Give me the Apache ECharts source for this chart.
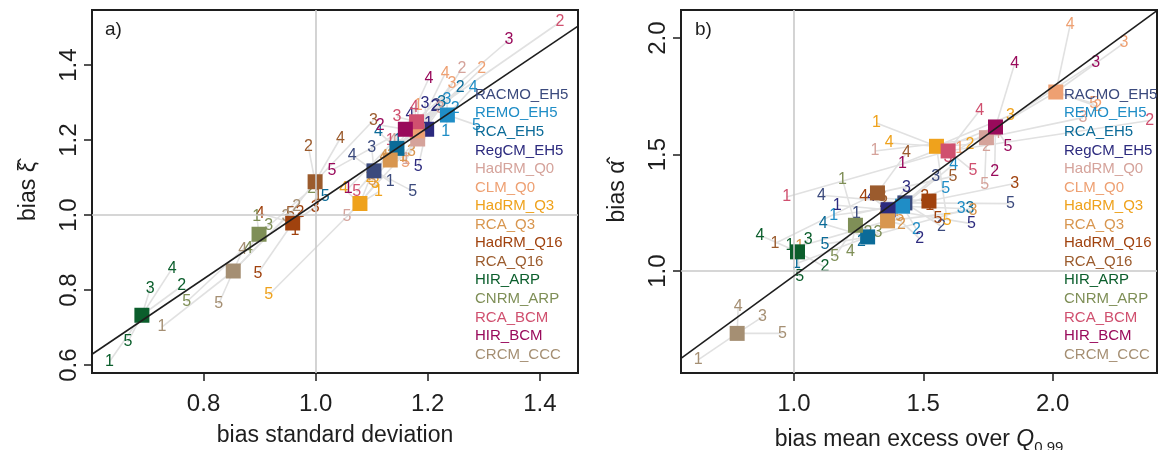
<!DOCTYPE html>
<html><head><meta charset="utf-8">
<script src="https://cdn.jsdelivr.net/npm/echarts@6/dist/echarts.min.js"></script>
<style>html,body{margin:0;padding:0;background:#fff}#c{width:1160px;height:450px}</style>
</head><body><div id="c"></div>
<script>
const models = ['RACMO_EH5','REMO_EH5','RCA_EH5','RegCM_EH5','HadRM_Q0','CLM_Q0','HadRM_Q3','RCA_Q3','HadRM_Q16','RCA_Q16','HIR_ARP','CNRM_ARP','RCA_BCM','HIR_BCM','CRCM_CCC'];
const colors = ['#3B4A7D','#1F8DC6','#0B6B98','#2C2A7E','#D5A39B','#EEA072','#EFA21C','#D8964F','#A0420E','#9B5B2D','#0B5E2C','#7F8F57','#D0506F','#990A5B','#A58F73'];

// Panel a: bias standard deviation (x) vs bias xi-hat (y)
const aSqX = [1.104,1.235,1.145,1.198,1.182,1.181,1.079,1.133,0.959,0.999,0.690,0.899,1.180,1.160,0.853];
const aSqY = [1.118,1.267,1.178,1.229,1.203,1.225,1.031,1.147,0.979,1.089,0.733,0.949,1.249,1.229,0.851];
const aLabX = [
 [1.133,1.215,1.100,1.065,1.173],
 [1.232,1.249,1.234,1.281,1.287],
 [1.147,1.258,1.225,1.112,1.017],
 [1.201,1.213,1.195,1.168,1.183],
 [1.161,1.261,1.222,1.138,1.056],
 [1.183,1.296,1.243,1.231,1.160],
 [1.112,1.097,1.106,1.050,0.916],
 [1.156,1.135,1.171,1.122,1.101],
 [0.963,0.972,0.999,0.901,0.897],
 [1.004,0.987,1.103,1.044,0.955],
 [0.632,0.761,0.705,0.744,0.665],
 [0.895,0.993,0.916,0.880,0.770],
 [1.133,1.436,1.145,1.176,1.073],
 [1.058,1.115,1.345,1.202,1.029],
 [0.726,0.966,0.947,0.870,0.827]];
const aLabY = [
 [1.089,1.291,1.181,1.160,1.064],
 [1.222,1.285,1.307,1.341,1.240],
 [1.200,1.341,1.299,1.222,1.049],
 [1.243,1.289,1.298,1.267,1.129],
 [1.147,1.392,1.285,1.200,0.997],
 [1.293,1.391,1.351,1.378,1.141],
 [1.062,1.099,1.083,1.071,0.787],
 [1.155,1.160,1.169,1.155,1.093],
 [0.960,1.008,1.021,1.005,0.845],
 [1.053,1.182,1.253,1.205,1.005],
 [0.609,0.811,0.805,0.858,0.662],
 [0.995,1.071,0.973,0.911,0.769],
 [1.200,1.515,1.262,1.288,1.062],
 [1.071,1.240,1.467,1.365,1.120],
 [0.702,1.022,0.995,0.907,0.763]];
const aDiagX = [0.601, 1.468];
const aDiagY = [0.629, 1.504];
const aTicksX = [0.8, 1.0, 1.2, 1.4];
const aTicksY = [0.6, 0.8, 1.0, 1.2, 1.4];

// Panel b: bias mean excess (x) vs bias alpha-hat (y)
const bSqX = [1.429,1.420,1.285,1.364,1.744,2.012,1.551,1.362,1.522,1.323,1.014,1.238,1.596,1.779,0.781];
const bSqY = [1.293,1.279,1.147,1.264,1.573,1.769,1.536,1.216,1.301,1.336,1.083,1.197,1.516,1.619,0.733];
const bLabX = [
 [1.242,1.570,1.548,1.107,1.837],
 [1.154,1.474,1.647,1.618,1.587],
 [1.010,1.261,1.680,1.113,1.120],
 [1.167,1.486,1.435,1.300,1.686],
 [1.313,1.744,2.117,1.784,1.737],
 [1.641,2.174,2.275,2.068,2.158],
 [1.319,1.680,1.837,1.368,1.592],
 [1.023,1.416,1.692,1.344,1.409],
 [1.525,1.506,1.853,1.270,1.557],
 [0.927,1.347,1.340,1.435,1.615],
 [0.985,1.120,1.055,0.869,1.023],
 [1.188,1.286,1.325,1.219,1.158],
 [0.972,2.375,1.595,1.718,1.692],
 [1.420,1.776,2.166,1.853,1.827],
 [0.630,0.792,0.879,0.785,0.956]];
const bLabY = [
 [1.247,1.193,1.407,1.326,1.290],
 [1.240,1.179,1.269,1.459,1.354],
 [1.033,1.126,1.269,1.204,1.116],
 [1.283,1.140,1.359,1.318,1.204],
 [1.516,1.533,1.659,1.592,1.372],
 [1.526,1.707,1.979,2.059,1.720],
 [1.636,1.544,1.669,1.550,1.219],
 [1.107,1.201,1.261,1.253,1.236],
 [1.283,1.321,1.376,1.318,1.226],
 [1.119,1.296,1.321,1.507,1.407],
 [1.111,1.018,1.136,1.154,0.976],
 [1.393,1.167,1.164,1.083,1.061],
 [1.318,1.647,1.489,1.690,1.430],
 [1.462,1.426,1.897,1.890,1.533],
 [0.619,0.734,0.804,0.847,0.733]];
const bDiagX = [0.564, 2.403];
const bDiagY = [0.626, 2.118];
const bTicksX = [1.0, 1.5, 2.0];
const bTicksY = [1.0, 1.5, 2.0];

const FONT = '"Liberation Sans", Arial, Helvetica, sans-serif';
const INK = '#1e1e1e';

function panelSeries(i, sqX, sqY, labX, labY, diagX, diagY) {
  const segs = [], labs = [], sqs = [];
  for (let m = 0; m < models.length; m++) {
    sqs.push({ value: [sqX[m], sqY[m]], itemStyle: { color: colors[m], opacity: 1 } });
    for (let k = 0; k < 5; k++) {
      segs.push([sqX[m], sqY[m], labX[m][k], labY[m][k]]);
      labs.push([labX[m][k], labY[m][k], m, k + 1]);
    }
  }
  return [
    { type: 'custom', xAxisIndex: i, yAxisIndex: i, z: 2, silent: true, clip: true,
      encode: { x: [0, 2], y: [1, 3] }, data: segs,
      renderItem: (p, api) => {
        const a = api.coord([api.value(0), api.value(1)]);
        const b = api.coord([api.value(2), api.value(3)]);
        return { type: 'line', shape: { x1: a[0], y1: a[1], x2: b[0], y2: b[1] },
          style: { stroke: '#E1E1E1', lineWidth: 1.6 } };
      },
      markLine: { silent: true, symbol: 'none', label: { show: false }, animation: false,
        lineStyle: { color: '#C9C9C9', width: 1.6, type: 'solid' },
        data: [{ xAxis: 1 }, { yAxis: 1 }] }
    },
    { type: 'custom', xAxisIndex: i, yAxisIndex: i, z: 3, silent: true,
      encode: { x: 0, y: 1 }, data: labs,
      renderItem: (p, api) => {
        const a = api.coord([api.value(0), api.value(1)]);
        return { type: 'text', x: a[0], y: a[1],
          style: { text: String(api.value(3)), fill: colors[api.value(2)], fontSize: 16,
            fontFamily: FONT, align: 'center', verticalAlign: 'middle' } };
      }
    },
    { type: 'scatter', xAxisIndex: i, yAxisIndex: i, z: 4, symbol: 'rect', symbolSize: 15,
      silent: true, itemStyle: { opacity: 1 }, data: sqs },
    { type: 'line', xAxisIndex: i, yAxisIndex: i, z: 5, symbol: 'none', silent: true,
      data: [[diagX[0], diagY[0]], [diagX[1], diagY[1]]],
      lineStyle: { color: INK, width: 1.6 } }
  ];
}

function xAx(i, min, max, ticks, name, rich) {
  return { gridIndex: i, type: 'value', min, max,
    axisLine: { show: false }, splitLine: { show: false },
    axisTick: { show: true, length: 8, customValues: ticks, lineStyle: { color: INK, width: 1.5 } },
    axisLabel: { customValues: ticks, formatter: v => v.toFixed(1), fontSize: 24, color: INK,
      margin: 19, fontFamily: FONT },
    name, nameLocation: 'middle', nameGap: 51,
    nameTextStyle: { fontSize: 23, color: INK, fontFamily: FONT, rich } };
}
function yAx(i, min, max, ticks, name) {
  return { gridIndex: i, type: 'value', min, max,
    axisLine: { show: false }, splitLine: { show: false },
    axisTick: { show: true, length: 8, customValues: ticks, lineStyle: { color: INK, width: 1.5 } },
    axisLabel: { customValues: ticks, formatter: v => v.toFixed(1), fontSize: 24, color: INK,
      margin: 11, rotate: 90, fontFamily: FONT },
    name, nameLocation: 'middle', nameGap: 52, nameRotate: 90,
    nameTextStyle: { fontSize: 23, color: INK, fontFamily: FONT } };
}

const graphics = [];
function legendAt(x) {
  models.forEach((m, j) => graphics.push({ type: 'text', left: x, top: 95.3 + j * 18.55 - 8,
    style: { text: m, fill: colors[j], fontSize: 15, fontFamily: FONT }, z: 10 }));
}
legendAt(475); legendAt(1064);
graphics.push({ type: 'text', left: 105, top: 20, style: { text: 'a)', fill: INK, fontSize: 19, fontFamily: FONT }, z: 10 });
graphics.push({ type: 'text', left: 695, top: 20, style: { text: 'b)', fill: INK, fontSize: 19, fontFamily: FONT }, z: 10 });

const chart = echarts.init(document.getElementById('c'), null, { renderer: 'canvas' });
chart.setOption({
  animation: false,
  backgroundColor: '#fff',
  grid: [
    { left: 92, top: 10, width: 486, height: 363, show: true, borderColor: INK, borderWidth: 2,
      containLabel: false, outerBoundsMode: 'none' },
    { left: 681, top: 10, width: 476, height: 363, show: true, borderColor: INK, borderWidth: 2,
      containLabel: false, outerBoundsMode: 'none' }
  ],
  xAxis: [
    xAx(0, 0.601, 1.468, aTicksX, 'bias standard deviation'),
    xAx(1, 0.564, 2.403, bTicksX, 'bias mean excess over {q|Q}{s|0.99}',
      { q: { fontSize: 23, fontStyle: 'italic', color: INK, fontFamily: FONT },
        s: { fontSize: 15, color: INK, fontFamily: FONT, padding: [16, 0, 0, 0] } })
  ],
  yAxis: [
    yAx(0, 0.579, 1.547, aTicksY, 'bias ξ\u0302'),
    yAx(1, 0.563, 2.121, bTicksY, 'bias α\u0302')
  ],
  series: [].concat(
    panelSeries(0, aSqX, aSqY, aLabX, aLabY, aDiagX, aDiagY),
    panelSeries(1, bSqX, bSqY, bLabX, bLabY, bDiagX, bDiagY)
  ),
  graphic: graphics
});
</script></body></html>
